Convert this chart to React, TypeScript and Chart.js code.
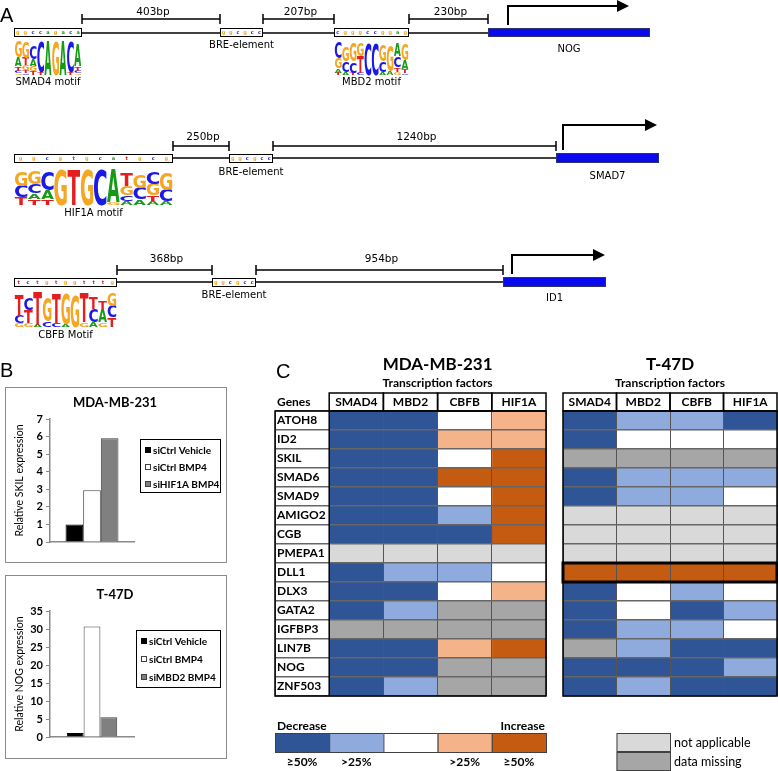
import React, { useEffect, useRef } from 'react';
import { Chart, registerables } from 'chart.js';

Chart.register(...registerables);

// ======================= DATA =======================
// Panel A – promoter schematics
const A_GENES = ['NOG', 'SMAD7', 'ID1'];
const A_MOTIF_NAMES = ['SMAD4 motif', 'MBD2 motif', 'HIF1A motif', 'CBFB Motif'];
const A_SPACERS_NOG = ['403bp', '207bp', '230bp'];
const A_SPACERS_SMAD7 = ['250bp', '1240bp'];
const A_SPACERS_ID1 = ['368bp', '954bp'];
const A_BRE_LABEL = 'BRE-element';
const A_BRE_SEQ = 'GGCGCC';

type LogoCol = [string, number][]; // letters listed top -> bottom, height as fraction of full logo height
const LOGO_SMAD4: LogoCol[] = [
  [['G', 0.42], ['A', 0.24], ['T', 0.12], ['C', 0.07], ['G', 0.05]],
  [['G', 0.42], ['T', 0.2], ['G', 0.14], ['T', 0.07], ['C', 0.05]],
  [['C', 0.36], ['A', 0.18], ['G', 0.15], ['T', 0.1]],
  [['C', 0.85], ['T', 0.08]],
  [['A', 0.92]],
  [['G', 0.92]],
  [['A', 0.92]],
  [['C', 0.82], ['T', 0.06]],
  [['A', 0.62], ['T', 0.12], ['C', 0.06], ['G', 0.05]],
];
const LOGO_MBD2: LogoCol[] = [
  [['C', 0.42], ['G', 0.28], ['A', 0.12], ['T', 0.06]],
  [['G', 0.4], ['C', 0.3], ['A', 0.08]],
  [['G', 0.5], ['C', 0.3], ['T', 0.06]],
  [['G', 0.35], ['T', 0.45], ['C', 0.06]],
  [['C', 0.88]],
  [['C', 0.88]],
  [['G', 0.45], ['C', 0.3], ['A', 0.08]],
  [['G', 0.7], ['A', 0.1]],
  [['A', 0.35], ['C', 0.3], ['T', 0.12], ['G', 0.08]],
  [['G', 0.45], ['A', 0.25], ['T', 0.1], ['C', 0.05]],
];
const LOGO_HIF1A: LogoCol[] = [
  [['G', 0.4], ['C', 0.3], ['T', 0.2]],
  [['G', 0.35], ['C', 0.25], ['A', 0.15], ['T', 0.15]],
  [['C', 0.5], ['A', 0.25], ['T', 0.15]],
  [['G', 0.95]],
  [['T', 0.95]],
  [['G', 0.95]],
  [['C', 0.95]],
  [['A', 0.85], ['G', 0.08]],
  [['T', 0.35], ['G', 0.25], ['C', 0.15], ['A', 0.1]],
  [['G', 0.35], ['C', 0.3], ['A', 0.15]],
  [['C', 0.3], ['G', 0.3], ['T', 0.15], ['A', 0.1]],
  [['G', 0.45], ['C', 0.3], ['A', 0.1]],
];
const LOGO_CBFB: LogoCol[] = [
  [['T', 0.55], ['C', 0.2], ['G', 0.1]],
  [['C', 0.3], ['T', 0.35], ['G', 0.1]],
  [['T', 0.85], ['A', 0.05]],
  [['G', 0.65], ['C', 0.15]],
  [['T', 0.75], ['C', 0.1]],
  [['G', 0.8], ['A', 0.08]],
  [['G', 0.85]],
  [['T', 0.75], ['G', 0.12]],
  [['T', 0.3], ['C', 0.35], ['A', 0.12]],
  [['T', 0.2], ['A', 0.35], ['G', 0.12]],
  [['G', 0.35], ['C', 0.3], ['T', 0.25]],
];

// Panel B – relative expression
const B_MDA_CONDITIONS = ['siCtrl Vehicle', 'siCtrl BMP4', 'siHIF1A BMP4'];
const B_MDA_VALUES = [1.0, 2.95, 5.9];
const B_MDA_TICKS = [0, 1, 2, 3, 4, 5, 6, 7];
const B_T47D_CONDITIONS = ['siCtrl Vehicle', 'siCtrl BMP4', 'siMBD2 BMP4'];
const B_T47D_VALUES = [1.1, 30.7, 5.5];
const B_T47D_TICKS = [0, 5, 10, 15, 20, 25, 30, 35];

// Panel C – heatmaps
const C_GENES = ['ATOH8', 'ID2', 'SKIL', 'SMAD6', 'SMAD9', 'AMIGO2', 'CGB', 'PMEPA1', 'DLL1', 'DLX3', 'GATA2', 'IGFBP3', 'LIN7B', 'NOG', 'ZNF503'];
const C_TFS = ['SMAD4', 'MBD2', 'CBFB', 'HIF1A'];
// D2 ≥50% decrease, D1 >25% decrease, N no change, I1 >25% increase, I2 ≥50% increase, NA not applicable, M data missing
const C_MDA: string[][] = [
  ['D2', 'D2', 'N', 'I1'],
  ['D2', 'D2', 'I1', 'I1'],
  ['D2', 'D2', 'N', 'I2'],
  ['D2', 'D2', 'I2', 'I2'],
  ['D2', 'D2', 'N', 'I2'],
  ['D2', 'D2', 'D1', 'I2'],
  ['D2', 'D2', 'D2', 'I2'],
  ['NA', 'NA', 'NA', 'NA'],
  ['D2', 'D1', 'D1', 'N'],
  ['D2', 'D2', 'N', 'I1'],
  ['D2', 'D1', 'M', 'M'],
  ['M', 'M', 'M', 'M'],
  ['D2', 'D2', 'I1', 'I2'],
  ['D2', 'D2', 'M', 'M'],
  ['D2', 'D1', 'M', 'M'],
];
const C_T47D: string[][] = [
  ['D2', 'D1', 'D1', 'D2'],
  ['D2', 'N', 'N', 'N'],
  ['M', 'M', 'M', 'M'],
  ['D2', 'D1', 'D1', 'D1'],
  ['D2', 'D1', 'D1', 'N'],
  ['NA', 'NA', 'NA', 'NA'],
  ['NA', 'NA', 'NA', 'NA'],
  ['NA', 'NA', 'NA', 'NA'],
  ['I2', 'I2', 'I2', 'I2'],
  ['D2', 'N', 'D1', 'N'],
  ['D2', 'N', 'D2', 'D1'],
  ['D2', 'D1', 'D1', 'N'],
  ['M', 'D1', 'D2', 'D2'],
  ['D2', 'D2', 'D2', 'D1'],
  ['D2', 'D1', 'D2', 'D2'],
];
const C_T47D_HIGHLIGHT = 'DLL1';
const C_SCALE_CODES = ['D2', 'D1', 'N', 'I1', 'I2'];
const C_SCALE_LABELS = ['≥50%', '>25%', '', '>25%', '≥50%'];
const C_SCALE_ENDS = ['Decrease', 'Increase'];
const C_NA_CODES = ['NA', 'M'];
const C_NA_LABELS = ['not applicable', 'data missing'];

// ======================= STYLE / LAYOUT =======================
const LATO = 'Lato, "Open Sans", sans-serif';
const DV = '"DejaVu Sans", sans-serif';
const LETTER_COLORS: Record<string, string> = { A: '#149A14', C: '#1A1AE6', G: '#F5A623', T: '#E41E1E' };
const C_COLORS: Record<string, string> = {
  D2: '#2F5597', D1: '#8FAADC', N: '#FFFFFF', I1: '#F5B38A', I2: '#C55A11', NA: '#D9D9D9', M: '#A6A6A6',
};
const B_FILLS = ['#000000', '#FFFFFF', '#808080'];
const B_EDGES = ['#000000', '#404040', '#404040'];

const A_LAYOUT = [
  {
    lineY: 33, boxT: 28, boxB: 37, brY: 19, brLabelY: 12, logoT: 38, logoB: 75, motifLabelY: 82, breLabelY: 45,
    motifs: [[14, 82], [334, 409]], bre: [220, 263], gene: [488, 650], geneT: 28, geneB: 37, geneLabelY: 49,
    arrowX: 508, arrowY: 6, arrowEnd: 629,
    brackets: [[82, 220], [263, 334], [409, 488]],
  },
  {
    lineY: 158, boxT: 154, boxB: 163, brY: 146, brLabelY: 137, logoT: 167, logoB: 205, motifLabelY: 213, breLabelY: 172,
    motifs: [[14, 173]], bre: [229, 273], gene: [556, 659], geneT: 153, geneB: 163, geneLabelY: 176,
    arrowX: 563, arrowY: 125, arrowEnd: 657,
    brackets: [[173, 229], [273, 556]],
  },
  {
    lineY: 282, boxT: 278, boxB: 287, brY: 270, brLabelY: 259, logoT: 289, logoB: 327, motifLabelY: 335, breLabelY: 295,
    motifs: [[14, 117]], bre: [212, 256], gene: [503, 606], geneT: 277, geneB: 287, geneLabelY: 298,
    arrowX: 512, arrowY: 255, arrowEnd: 605,
    brackets: [[117, 212], [256, 503]],
  },
];

// ======================= HELPERS =======================
function drawLetter(ctx: CanvasRenderingContext2D, L: string, x: number, y: number, w: number, h: number) {
  if (h < 0.6 || w < 0.6) return;
  ctx.save();
  ctx.font = 'bold 100px ' + DV;
  ctx.textAlign = 'left';
  ctx.textBaseline = 'alphabetic';
  const m = ctx.measureText(L);
  const lw = m.actualBoundingBoxLeft + m.actualBoundingBoxRight;
  const lh = m.actualBoundingBoxAscent + m.actualBoundingBoxDescent;
  ctx.translate(x, y);
  ctx.scale(w / lw, h / lh);
  ctx.fillStyle = LETTER_COLORS[L] || '#000';
  ctx.fillText(L, m.actualBoundingBoxLeft, m.actualBoundingBoxAscent);
  ctx.restore();
}

function drawLogo(ctx: CanvasRenderingContext2D, x0: number, x1: number, yT: number, yB: number, cols: LogoCol[]) {
  const w = (x1 - x0) / cols.length;
  const H = yB - yT;
  cols.forEach((col, i) => {
    let y = yB;
    for (let k = col.length - 1; k >= 0; k--) {
      const h = col[k][1] * H;
      y -= h;
      drawLetter(ctx, col[k][0], x0 + i * w + 0.3, y, w - 0.6, h);
    }
  });
}

function drawSeqBox(ctx: CanvasRenderingContext2D, x0: number, x1: number, yT: number, yB: number, seq: string) {
  ctx.fillStyle = '#fff';
  ctx.fillRect(x0, yT, x1 - x0, yB - yT);
  ctx.strokeStyle = '#000';
  ctx.lineWidth = 1;
  ctx.strokeRect(x0 + 0.5, yT + 0.5, x1 - x0 - 1, yB - yT - 1);
  ctx.font = 'bold 5px ' + DV;
  ctx.textAlign = 'center';
  ctx.textBaseline = 'middle';
  const w = (x1 - x0) / seq.length;
  for (let i = 0; i < seq.length; i++) {
    ctx.fillStyle = LETTER_COLORS[seq[i]] || '#000';
    ctx.fillText(seq[i].toLowerCase(), x0 + (i + 0.5) * w, (yT + yB) / 2 + 0.5);
  }
}

// ======================= PANEL A =======================
function makePanelA(canvas: HTMLCanvasElement) {
  const rows = [
    { gene: A_GENES[0], spacers: A_SPACERS_NOG, motifs: [{ name: A_MOTIF_NAMES[0], logo: LOGO_SMAD4 }, { name: A_MOTIF_NAMES[1], logo: LOGO_MBD2 }] },
    { gene: A_GENES[1], spacers: A_SPACERS_SMAD7, motifs: [{ name: A_MOTIF_NAMES[2], logo: LOGO_HIF1A }] },
    { gene: A_GENES[2], spacers: A_SPACERS_ID1, motifs: [{ name: A_MOTIF_NAMES[3], logo: LOGO_CBFB }] },
  ];
  const plugin = {
    id: 'panelA',
    afterDraw(chart: any) {
      const ctx: CanvasRenderingContext2D = chart.ctx;
      const X = (v: number) => chart.scales.x.getPixelForValue(v);
      const Y = (v: number) => chart.scales.y.getPixelForValue(v);
      ctx.save();
      ctx.fillStyle = '#000';
      ctx.font = '20px "Liberation Sans", Arial, sans-serif';
      ctx.textAlign = 'left';
      ctx.textBaseline = 'alphabetic';
      ctx.fillText('A', X(0), Y(22));
      ctx.fillText('B', X(0), Y(377));

      rows.forEach((row, r) => {
        const L = A_LAYOUT[r];
        ctx.strokeStyle = '#000';
        ctx.lineWidth = 1.3;
        ctx.beginPath();
        ctx.moveTo(X(L.motifs[0][1]), Y(L.lineY));
        ctx.lineTo(X(L.gene[0]), Y(L.lineY));
        ctx.stroke();
        ctx.lineWidth = 1.5;
        L.brackets.forEach((b, i) => {
          ctx.strokeStyle = '#000';
          ctx.beginPath();
          ctx.moveTo(X(b[0]), Y(L.brY));
          ctx.lineTo(X(b[1]), Y(L.brY));
          ctx.moveTo(X(b[0]), Y(L.brY - 5));
          ctx.lineTo(X(b[0]), Y(L.brY + 5));
          ctx.moveTo(X(b[1]), Y(L.brY - 5));
          ctx.lineTo(X(b[1]), Y(L.brY + 5));
          ctx.stroke();
          ctx.fillStyle = '#000';
          ctx.font = '10.5px ' + DV;
          ctx.textAlign = 'center';
          ctx.textBaseline = 'middle';
          ctx.fillText(row.spacers[i], X((b[0] + b[1]) / 2 + 2), Y(L.brLabelY));
        });
        row.motifs.forEach((m, i) => {
          const [x0, x1] = L.motifs[i];
          const consensus = m.logo.map((c) => c[0][0]).join('');
          drawSeqBox(ctx, X(x0), X(x1), Y(L.boxT), Y(L.boxB), consensus);
          drawLogo(ctx, X(x0 + 0.5), X(x1 - 0.5), Y(L.logoT), Y(L.logoB), m.logo);
          ctx.fillStyle = '#000';
          ctx.font = '10px ' + DV;
          ctx.textAlign = 'center';
          ctx.textBaseline = 'middle';
          ctx.fillText(m.name, X((x0 + x1) / 2), Y(L.motifLabelY));
        });
        drawSeqBox(ctx, X(L.bre[0]), X(L.bre[1]), Y(L.boxT), Y(L.boxB), A_BRE_SEQ);
        ctx.fillStyle = '#000';
        ctx.font = '10px ' + DV;
        ctx.textAlign = 'center';
        ctx.textBaseline = 'middle';
        ctx.fillText(A_BRE_LABEL, X((L.bre[0] + L.bre[1]) / 2), Y(L.breLabelY));
        ctx.fillStyle = '#0A0AEE';
        ctx.fillRect(X(L.gene[0]), Y(L.geneT), X(L.gene[1]) - X(L.gene[0]), Y(L.geneB) - Y(L.geneT));
        ctx.strokeStyle = '#30306a';
        ctx.lineWidth = 1;
        ctx.strokeRect(X(L.gene[0]) + 0.5, Y(L.geneT) + 0.5, X(L.gene[1]) - X(L.gene[0]) - 1, Y(L.geneB) - Y(L.geneT) - 1);
        ctx.fillStyle = '#000';
        ctx.fillText(row.gene, X((L.gene[0] + L.gene[1]) / 2), Y(L.geneLabelY));
        ctx.strokeStyle = '#000';
        ctx.lineWidth = 2;
        ctx.beginPath();
        ctx.moveTo(X(L.arrowX), Y(L.geneT - 3));
        ctx.lineTo(X(L.arrowX), Y(L.arrowY));
        ctx.lineTo(X(L.arrowEnd - 11), Y(L.arrowY));
        ctx.stroke();
        ctx.fillStyle = '#000';
        ctx.beginPath();
        ctx.moveTo(X(L.arrowEnd), Y(L.arrowY));
        ctx.lineTo(X(L.arrowEnd - 12), Y(L.arrowY - 6));
        ctx.lineTo(X(L.arrowEnd - 12), Y(L.arrowY + 6));
        ctx.closePath();
        ctx.fill();
      });
      ctx.restore();
    },
  };
  return new Chart(canvas, {
    type: 'scatter',
    data: { datasets: [{ data: [] }] },
    options: {
      responsive: false,
      animation: false,
      devicePixelRatio: 1,
      layout: { padding: 0 },
      plugins: { legend: { display: false }, tooltip: { enabled: false } },
      scales: {
        x: { type: 'linear', min: 0, max: canvas.width, display: false },
        y: { type: 'linear', min: 0, max: canvas.height, reverse: true, display: false },
      },
    },
    plugins: [plugin],
  } as any);
}

// ======================= PANEL B =======================
function makeBar(
  canvas: HTMLCanvasElement,
  conds: string[],
  values: number[],
  ticks: number[],
  yTitle: string,
  title: string,
  pad: { left: number; right: number; top: number; bottom: number },
  catPct: number,
  legend: { x0: number; x1: number; y0: number; y1: number; items: number[] },
) {
  const plugin = {
    id: 'barDecor',
    afterDraw(chart: any) {
      const ctx: CanvasRenderingContext2D = chart.ctx;
      const W = chart.width, H = chart.height;
      ctx.save();
      ctx.strokeStyle = '#8a8a8a';
      ctx.lineWidth = 1;
      ctx.strokeRect(0.5, 0.5, W - 1, H - 1);
      ctx.fillStyle = '#000';
      ctx.font = 'bold 13px ' + LATO;
      ctx.textAlign = 'center';
      ctx.textBaseline = 'middle';
      ctx.fillText(title, 110, pad.top - 16);
      ctx.strokeStyle = '#000';
      ctx.lineWidth = 1;
      ctx.strokeRect(legend.x0 + 0.5, legend.y0 + 0.5, legend.x1 - legend.x0, legend.y1 - legend.y0);
      ctx.font = 'bold 10px ' + LATO;
      ctx.textAlign = 'left';
      conds.forEach((c, i) => {
        const yc = legend.items[i];
        ctx.fillStyle = B_FILLS[i];
        ctx.fillRect(legend.x0 + 5, yc - 3, 6, 6);
        ctx.strokeStyle = B_EDGES[i];
        ctx.strokeRect(legend.x0 + 5.5, yc - 2.5, 5, 5);
        ctx.fillStyle = '#000';
        ctx.fillText(c, legend.x0 + 13, yc + 0.5);
      });
      ctx.restore();
    },
  };
  return new Chart(canvas, {
    type: 'bar',
    data: {
      labels: [''],
      datasets: conds.map((c, i) => ({
        label: c,
        data: [values[i]],
        backgroundColor: B_FILLS[i],
        borderColor: B_EDGES[i],
        borderWidth: 1,
        borderSkipped: 'bottom',
        barPercentage: 1,
        categoryPercentage: catPct,
      })),
    },
    options: {
      responsive: false,
      animation: false,
      devicePixelRatio: 1,
      layout: { padding: pad },
      plugins: { legend: { display: false }, tooltip: { enabled: false } },
      scales: {
        x: {
          grid: { display: false },
          ticks: { display: false },
          border: { color: '#8a8a8a', width: 1.5 },
          afterFit: (s: any) => { s.height = 0; },
        },
        y: {
          min: ticks[0],
          max: ticks[ticks.length - 1],
          ticks: { stepSize: ticks[1] - ticks[0], color: '#000', font: { family: LATO, size: 11, weight: 'bold' }, padding: 3 },
          grid: { drawOnChartArea: false, drawTicks: true, tickLength: 4, color: '#8a8a8a' },
          border: { color: '#8a8a8a', width: 1.5 },
          title: { display: true, text: yTitle, color: '#000', font: { family: LATO, size: 10.5 }, padding: { top: 8, bottom: 0 } },
          afterFit: (s: any) => { s.width = 45; },
        },
      },
    },
    plugins: [plugin],
  } as any);
}

// ======================= PANEL C =======================
function makeHeatmap(
  canvas: HTMLCanvasElement,
  codes: string[][],
  cfg: { showGenes: boolean; title: string; pad: any; highlight?: string; legend: 'scale' | 'na' },
) {
  const plugin = {
    id: 'heatDecor',
    afterDraw(chart: any) {
      const ctx: CanvasRenderingContext2D = chart.ctx;
      const { left, right, top, bottom } = chart.chartArea;
      const xs = chart.scales.x, ys = chart.scales.y;
      const X = (v: number) => xs.getPixelForValue(v);
      const x0 = X(0), x4 = X(4);
      ctx.save();
      ctx.fillStyle = '#000';
      ctx.textBaseline = 'alphabetic';
      ctx.textAlign = 'center';
      ctx.font = 'bold 17px ' + LATO;
      ctx.fillText(cfg.title, (x0 + x4) / 2, top - 41);
      ctx.font = 'bold 12px ' + LATO;
      ctx.fillText('Transcription factors', (x0 + x4) / 2, top - 24);
      ctx.strokeStyle = '#000';
      ctx.lineWidth = 1.5;
      ctx.textBaseline = 'middle';
      C_TFS.forEach((tf, j) => {
        const a = X(j), b = X(j + 1);
        ctx.strokeRect(a, top - 18, b - a, 18);
        ctx.fillText(tf, (a + b) / 2, top - 8.5);
      });
      if (cfg.showGenes) {
        ctx.textAlign = 'left';
        ctx.fillText('Genes', left + 2, top - 8.5);
        ctx.font = '20px "Liberation Sans", Arial, sans-serif';
        ctx.textBaseline = 'alphabetic';
        ctx.fillText('C', left + 1, top - 33);
        ctx.beginPath();
        ctx.moveTo(x0, top);
        ctx.lineTo(x0, bottom);
        ctx.stroke();
      }
      ctx.lineWidth = 1.5;
      ctx.strokeRect(left, top, right - left, bottom - top);
      if (cfg.highlight) {
        const idx = C_GENES.indexOf(cfg.highlight);
        const rh = (bottom - top) / C_GENES.length;
        const yc = ys.getPixelForValue(idx);
        ctx.lineWidth = 3;
        ctx.strokeRect(left, yc - rh / 2, right - left, rh);
      }
      const lt = bottom + 37, lh = 19;
      ctx.lineWidth = 1;
      ctx.strokeStyle = '#404040';
      if (cfg.legend === 'scale') {
        C_SCALE_CODES.forEach((code, j) => {
          const a = X(j - 1), b = X(j);
          ctx.fillStyle = C_COLORS[code];
          ctx.fillRect(a, lt, b - a, lh);
          ctx.strokeRect(a + 0.5, lt + 0.5, b - a, lh);
          ctx.fillStyle = '#000';
          ctx.font = 'bold 12px ' + LATO;
          ctx.textAlign = 'center';
          ctx.textBaseline = 'middle';
          if (C_SCALE_LABELS[j]) ctx.fillText(C_SCALE_LABELS[j], (a + b) / 2, bottom + 66);
        });
        ctx.fillStyle = '#000';
        ctx.font = 'bold 12px ' + LATO;
        ctx.textBaseline = 'middle';
        ctx.textAlign = 'left';
        ctx.fillText(C_SCALE_ENDS[0], X(-1) + 2, bottom + 30);
        ctx.textAlign = 'right';
        ctx.fillText(C_SCALE_ENDS[1], X(4) - 1, bottom + 30);
      } else {
        C_NA_CODES.forEach((code, k) => {
          const a = X(1), b = X(2);
          const y = lt + k * lh;
          ctx.fillStyle = C_COLORS[code];
          ctx.fillRect(a, y, b - a, lh);
          ctx.strokeStyle = '#404040';
          ctx.strokeRect(a + 0.5, y + 0.5, b - a, lh - 1);
          ctx.fillStyle = '#000';
          ctx.font = '12.5px ' + LATO;
          ctx.textAlign = 'left';
          ctx.textBaseline = 'middle';
          ctx.fillText(C_NA_LABELS[k], b + 4, y + lh / 2);
        });
      }
      ctx.restore();
    },
  };
  return new Chart(canvas, {
    type: 'bar',
    data: {
      labels: C_GENES,
      datasets: C_TFS.map((tf, j) => ({
        label: tf,
        data: C_GENES.map(() => 1),
        backgroundColor: codes.map((row) => C_COLORS[row[j]]),
        borderWidth: 0,
        barPercentage: 1,
        categoryPercentage: 1,
      })),
    },
    options: {
      indexAxis: 'y',
      responsive: false,
      animation: false,
      devicePixelRatio: 1,
      layout: { padding: cfg.pad },
      plugins: { legend: { display: false }, tooltip: { enabled: false } },
      scales: {
        x: {
          type: 'linear',
          stacked: true,
          min: cfg.showGenes ? -1 : 0,
          max: 4,
          ticks: { display: false, stepSize: 1 },
          grid: { color: '#555', lineWidth: 1, drawTicks: false, z: 1 },
          border: { display: false },
          z: 1,
          afterFit: (s: any) => { s.height = 0; },
        },
        y: {
          type: 'category',
          stacked: true,
          offset: true,
          ticks: {
            display: cfg.showGenes,
            mirror: true,
            crossAlign: 'near',
            padding: 2,
            autoSkip: false,
            color: '#000',
            font: { family: LATO, size: 12, weight: 'bold' },
          },
          grid: { offset: true, color: '#666', lineWidth: 1.5, drawTicks: false, z: 1 },
          border: { display: false },
          z: 1,
          afterFit: (s: any) => { s.width = 0; },
        },
      },
    },
    plugins: [plugin],
  } as any);
}

// ======================= APP =======================
export default function App() {
  const aRef = useRef<HTMLCanvasElement>(null);
  const b1Ref = useRef<HTMLCanvasElement>(null);
  const b2Ref = useRef<HTMLCanvasElement>(null);
  const c1Ref = useRef<HTMLCanvasElement>(null);
  const c2Ref = useRef<HTMLCanvasElement>(null);

  useEffect(() => {
    const charts = [
      makePanelA(aRef.current!),
      makeBar(b1Ref.current!, B_MDA_CONDITIONS, B_MDA_VALUES, B_MDA_TICKS, 'Relative SKIL expression', 'MDA-MB-231',
        { left: 0, right: 93, top: 32, bottom: 21 }, 0.63,
        { x0: 135, x1: 215, y0: 52, y1: 105, items: [63, 80, 97] }),
      makeBar(b2Ref.current!, B_T47D_CONDITIONS, B_T47D_VALUES, B_T47D_TICKS, 'Relative NOG expression', 'T-47D',
        { left: 0, right: 93, top: 36, bottom: 22 }, 0.6,
        { x0: 131, x1: 215, y0: 55, y1: 112, items: [66, 84, 102] }),
      makeHeatmap(c1Ref.current!, C_MDA, { showGenes: true, title: 'MDA-MB-231', pad: { left: 20, right: 6, top: 55, bottom: 75 }, legend: 'scale' }),
      makeHeatmap(c2Ref.current!, C_T47D, { showGenes: false, title: 'T-47D', pad: { left: 7, right: 1, top: 55, bottom: 75 }, highlight: C_T47D_HIGHLIGHT, legend: 'na' }),
    ];
    return () => charts.forEach((c) => c.destroy());
  }, []);

  const abs = (left: number, top: number): React.CSSProperties => ({ position: 'absolute', left, top });
  return (
    <div style={{ position: 'absolute', left: 0, top: 0, width: 778, height: 771, background: '#fff', overflow: 'hidden' }}>
      <canvas ref={aRef} width={778} height={386} style={abs(0, 0)} />
      <canvas ref={b1Ref} width={222} height={176} style={abs(5, 387)} />
      <canvas ref={b2Ref} width={222} height={184} style={abs(5, 575)} />
      <canvas ref={c1Ref} width={297} height={415} style={abs(255, 356)} />
      <canvas ref={c2Ref} width={222} height={415} style={abs(556, 356)} />
    </div>
  );
}
